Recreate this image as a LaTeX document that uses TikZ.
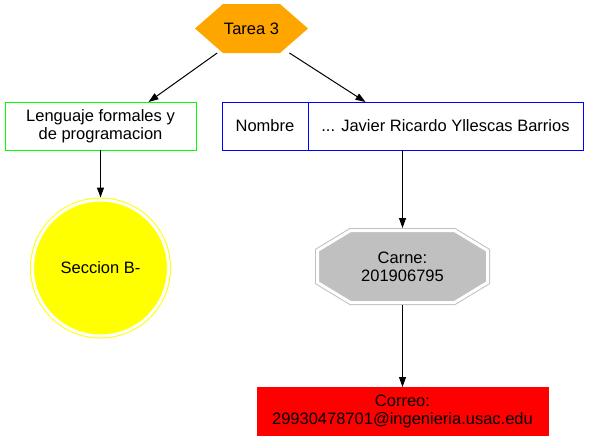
\documentclass[tikz,border=0pt]{standalone}
\usepackage{fontspec}
\setmainfont{Liberation Sans}
\usetikzlibrary{positioning,calc,arrows.meta}

\definecolor{gvorange}{HTML}{FFA500}
\definecolor{gvgreen}{HTML}{00FF00}
\definecolor{gvblue}{HTML}{0000FF}
\definecolor{gvgray}{HTML}{C0C0C0}
\definecolor{gvyellow}{HTML}{FFFF00}
\definecolor{gvred}{HTML}{FF0000}

\tikzset{
	box/.style={rectangle, inner sep=0pt, outer sep=0pt, minimum height=48pt, align=center, line width=1pt, font=\fontsize{16.5}{18}\selectfont},
	edge/.style={-{Triangle[length=10pt,width=7pt]}, line width=1pt},
}

\begin{document}
\begin{tikzpicture}[x=1pt,y=-1pt]
	\useasboundingbox (0,0) rectangle (589,440);
	
	% shapes drawn first, nodes on top
	\fill[gvorange] (195,28.5) -- (223,4) -- (280,4) -- (308,28.5) -- (280,53) -- (223,53) -- cycle;
	\filldraw[gvgray, line width=1pt, double=white, double distance=3pt] (317.5,250.5) -- (350.5,230.5) -- (454.5,230.5) -- (487.5,250.5) -- (487.5,282.5) -- (454.5,302.5) -- (350.5,302.5) -- (317.5,282.5) -- cycle;
	
	\node[box, minimum width=113pt, minimum height=49pt] (tarea) at (251.5,28.5) {Tarea 3};
	\node[box, draw=gvgreen, minimum width=191pt] (lenguaje) at (100.5,126) {Lenguaje formales y\\ de programacion};
	\node[box, draw=gvblue, minimum width=86pt] (nombre) at (265,126) {Nombre};
	\node[box, draw=gvblue, minimum width=275pt, anchor=west] (javier) at (nombre.east) {... Javier Ricardo Yllescas Barrios};
	\node[box, circle, draw=gvyellow, fill=gvyellow, double=white, double distance=3pt, minimum size=136pt, outer sep=2.5pt] (seccion) at (100.5,268) {Seccion B-};
	\node[box, minimum width=175pt, minimum height=77pt] (carne) at (402.5,266.5) {Carne:\\ 201906795};
	\node[box, draw=gvred, fill=gvred, minimum width=291pt] (correo) at (402.5,411) {Correo:\\ 29930478701@ingenieria.usac.edu};
	
	\draw[edge] (tarea) -- ([xshift=48pt]lenguaje.north);
	\draw[edge] (tarea) -- ([xshift=-80pt]javier.north);
	\draw[edge] (lenguaje) -- (seccion);
	\draw[edge] (javier.south -| carne) -- (carne);
	\draw[edge] (carne) -- (correo);
\end{tikzpicture}
\end{document}
